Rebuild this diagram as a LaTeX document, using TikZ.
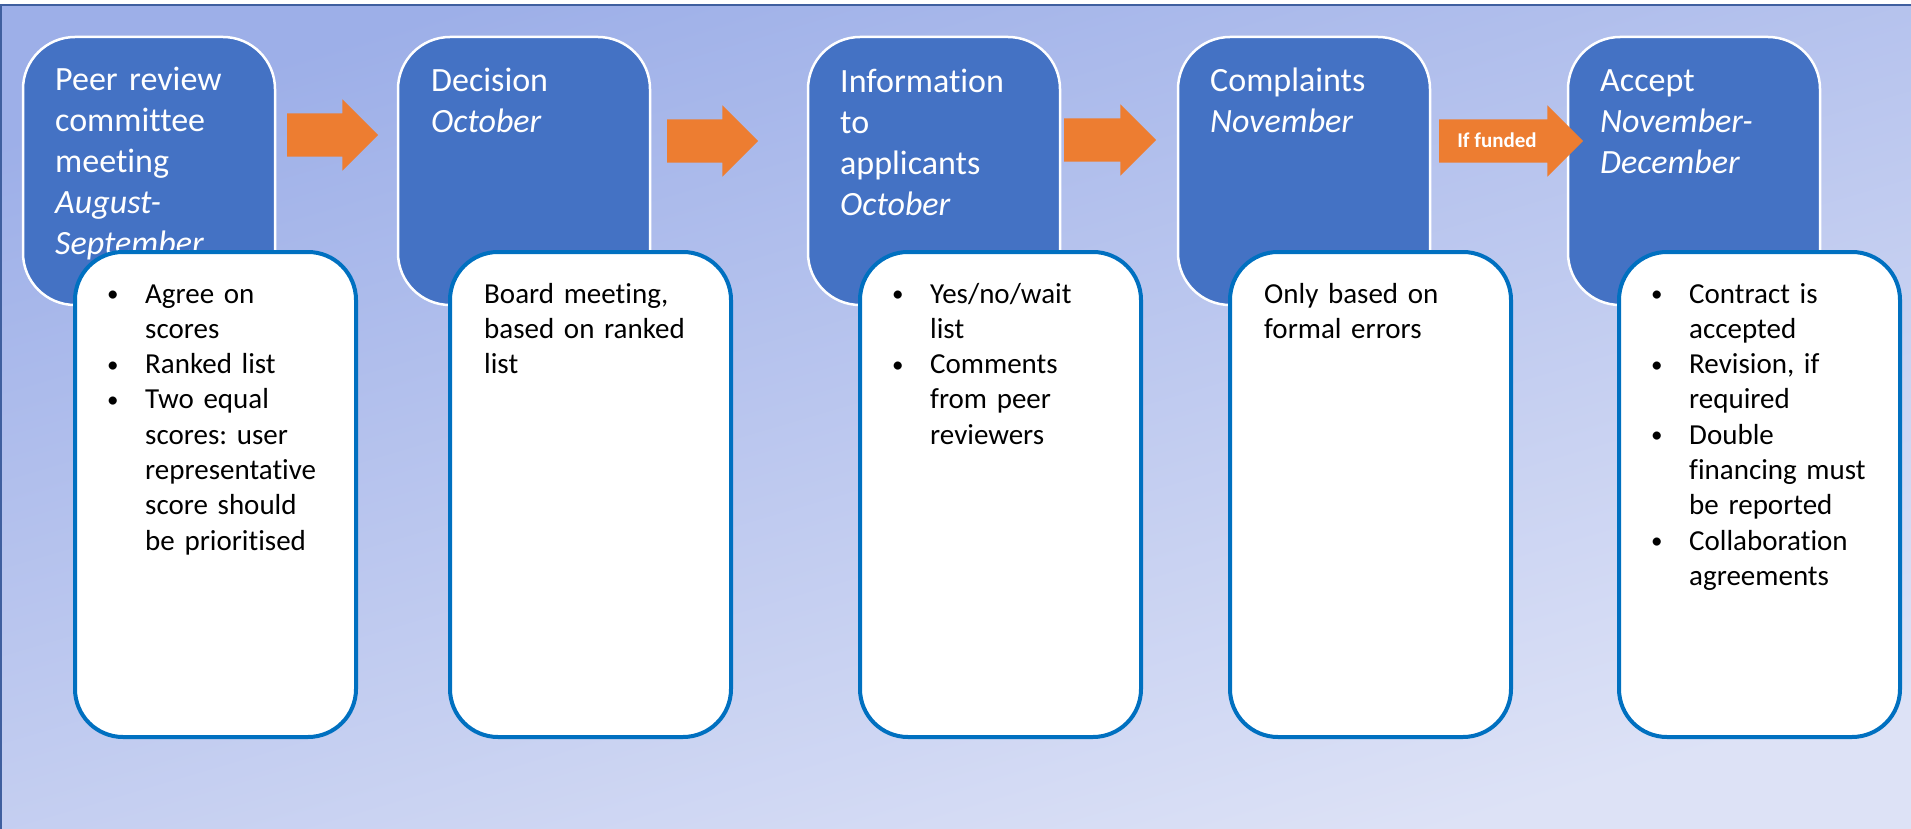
\documentclass[tikz,border=0pt]{standalone}
\usepackage{fontspec}
\setmainfont{Carlito}[Ligatures=NoCommon]
\usetikzlibrary{shapes.arrows}

\definecolor{bgtop}{HTML}{9DAFE8}
\definecolor{bgbot}{HTML}{DDE2F6}
\definecolor{frameline}{HTML}{3F5F9F}
\definecolor{stagefill}{HTML}{4472C4}
\definecolor{noteline}{HTML}{0070C0}
\definecolor{flowfill}{HTML}{ED7D31}

\newcommand{\bul}{\makebox[36pt][l]{\hspace{-2pt}\raisebox{1.5pt}{\fontsize{23}{0}\selectfont\textbullet}}}
\newcommand{\ind}{\hspace*{36pt}}
\frenchspacing

\begin{document}
\begin{tikzpicture}
[x=1pt,y=-1pt,
  stage/.style={rectangle,rounded corners=52pt,fill=stagefill,draw=white,line width=2.5pt,
    minimum width=252pt,minimum height=268pt,inner sep=0pt,outer sep=0pt,anchor=north west},
  note/.style={rectangle,rounded corners=48pt,fill=white,draw=noteline,line width=4pt,
    minimum width=281pt,minimum height=485pt,inner sep=0pt,outer sep=0pt,anchor=north west},
  stagetext/.style={anchor=base west,text width=220pt,align=left,inner sep=0pt,text=white,
    font=\fontsize{34}{40.8}\selectfont},
  notetext/.style={anchor=base west,text width=240pt,align=left,inner sep=0pt,
    font=\fontsize{29}{35.3}\selectfont},
  flow/.style={single arrow,fill=flowfill,inner xsep=0pt,inner ysep=21.5pt,
    single arrow head extend=14pt,minimum width=71pt,outer sep=0pt,anchor=tail}]
  \useasboundingbox (0,0) rectangle (1911,829);
  \fill[white] (0,0) rectangle (1911,829);
  \shade[top color=bgtop,bottom color=bgbot,shading angle=16.5] (1,5) rectangle (1911,829);
  \draw[frameline,line width=2pt] (1,829) -- (1,5) -- (1911,5);

  % stages
  \node[stage] (p1) at (23,37) {};
  \node[stage] (p2) at (398,37) {};
  \node[stage] (p3) at (808,37) {};
  \node[stage] (p4) at (1178,37) {};
  \node[stage] (p5) at (1568,37) {};

  \node[stagetext] (p1t) at ([xshift=32pt,yshift=-54pt]p1.north west)
    {Peer review\\committee\\meeting\\\textit{August-}\\\textit{September}};
  \node[stagetext] (p2t) at ([xshift=33pt,yshift=-55pt]p2.north west)
    {Decision\\\textit{October}};
  \node[stagetext] (p3t) at ([xshift=32pt,yshift=-56pt]p3.north west)
    {Information\\to\\applicants\\\textit{October}};
  \node[stagetext] (p4t) at ([xshift=32pt,yshift=-55pt]p4.north west)
    {Complaints\\\textit{November}};
  \node[stagetext] (p5t) at ([xshift=32pt,yshift=-55pt]p5.north west)
    {Accept\\\textit{November-}\\\textit{December}};

  % arrows
  \node[flow,minimum height=91pt] (p1p2) at ([xshift=12pt,yshift=-98pt]p1.north east) {};
  \node[flow,minimum height=91pt] (p2p3) at ([xshift=17pt,yshift=-104pt]p2.north east) {};
  \node[flow,minimum height=92pt] (p3p4) at ([xshift=4pt,yshift=-103pt]p3.north east) {};
  \node[flow,minimum height=144pt] (p4p5) at ([xshift=9pt,yshift=-104pt]p4.north east) {};
  \node[inner sep=0pt,text=white,font=\fontsize{21}{25}\selectfont\bfseries] (p4p5t)
    at (1497,140) {If funded};

  % details
  \node[note] (p1d) at (75,252) {};
  \node[note] (p2d) at (450,252) {};
  \node[note] (p3d) at (860,252) {};
  \node[note] (p4d) at (1230,252) {};
  \node[note] (p5d) at (1619,252) {};

  \node[notetext] (p1dt) at ([xshift=34pt,yshift=-51pt]p1d.north west)
    {\bul Agree on\\\ind scores\\\bul Ranked list\\\bul Two equal\\\ind scores: user\\
     \ind representative\\\ind score should\\\ind be prioritised};
  \node[notetext] (p2dt) at ([xshift=34pt,yshift=-51pt]p2d.north west)
    {Board meeting,\\based on ranked\\list};
  \node[notetext] (p3dt) at ([xshift=34pt,yshift=-51pt]p3d.north west)
    {\bul Yes/no/wait\\\ind list\\\bul Comments\\\ind from peer\\\ind reviewers};
  \node[notetext] (p4dt) at ([xshift=34pt,yshift=-51pt]p4d.north west)
    {Only based on\\formal errors};
  \node[notetext] (p5dt) at ([xshift=34pt,yshift=-51pt]p5d.north west)
    {\bul Contract is\\\ind accepted\\\bul Revision, if\\\ind required\\\bul Double\\
     \ind financing must\\\ind be reported\\\bul Collaboration\\\ind agreements};
\end{tikzpicture}
\end{document}
